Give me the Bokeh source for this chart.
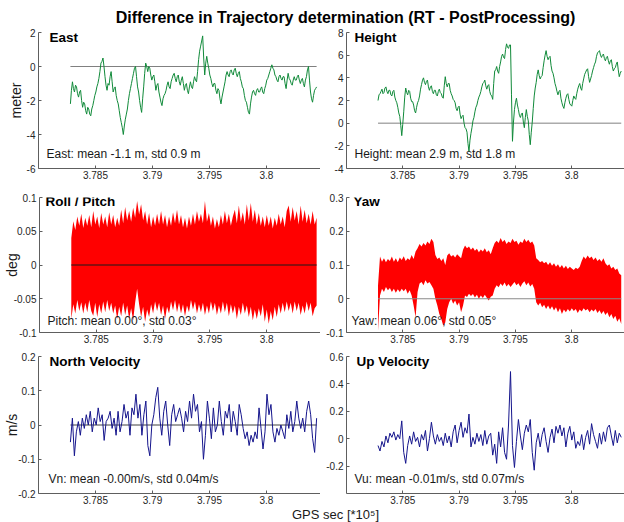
import math
from bokeh.plotting import figure
from bokeh.models import Range1d, FixedTicker, Label
from bokeh.layouts import column, row
from bokeh.embed import file_html
from bokeh.resources import INLINE

# ---------------- data ----------------
T_START = 3.7828   # GPS sec [*10^5]
T_END = 3.8044

x_ticks = [3.785, 3.79, 3.795, 3.8]
x_tick_labels = ["3.785", "3.79", "3.795", "3.8"]

east = [-2.2, -1.4, -0.9, -1.3, -1.5, -1.1, -1.2, -1.6, -1.8, -1.5, -1.4, -2.0, -2.4, -2.1, -2.2,
        -2.6, -2.8, -2.4, -2.5, -2.8, -2.9, -2.5, -2.3, -2.0, -1.7, -1.5, -1.2, -1.0, -0.7, -0.3,
        0.2, 0.3, 0.5, 0.0, -0.6, -1.1, -1.4, -1.0, -1.1, -0.6, -0.3, -0.9, -1.5, -1.3, -1.2,
        -1.7, -2.0, -2.2, -2.6, -3.0, -3.3, -3.6, -4.0, -3.5, -3.1, -2.8, -2.5, -2.0, -1.6, -1.3,
        -1.0, -0.7, -0.4, -0.1, 0.0, -0.6, -1.2, -1.5, -2.0, -2.4, -2.7, -1.9, -1.2, -0.4, 0.2,
        0.0, -0.3, 0.0, -0.1, -0.5, -0.8, -0.6, -0.5, -0.9, -1.4, -1.1, -1.0, -1.5, -1.8, -2.1,
        -2.3, -1.9, -1.7, -1.6, -1.4, -1.1, -0.9, -1.2, -1.3, -0.9, -0.7, -0.5, -0.4, -0.7, -0.9,
        -0.6, -0.5, -0.9, -1.1, -0.8, -0.6, -1.0, -1.4, -1.1, -1.0, -1.4, -1.6, -1.2, -0.9, -1.2,
        -1.3, -0.9, -0.6, -0.8, -0.9, -0.3, 0.4, 0.9, 1.2, 1.5, 1.8, 0.5, -0.5, 0.2, 0.6, 0.2,
        -0.1, -0.5, -0.7, -1.0, -1.2, -1.0, -1.0, -1.4, -1.6, -1.3, -1.4, -1.9, -2.2, -1.8, -1.5,
        -1.2, -0.9, -0.5, -0.3, -0.5, -0.6, -0.3, -0.2, -0.4, -0.5, -0.2, -0.1, -0.4, -0.6, -0.4,
        -0.3, -0.7, -0.9, -1.2, -1.3, -1.7, -2.0, -2.1, -2.4, -2.7, -2.8, -2.2, -1.8, -1.5, -1.4,
        -1.6, -1.7, -1.4, -1.3, -1.5, -1.5, -1.3, -1.2, -1.5, -1.6, -1.3, -1.1, -0.8, -0.7, -0.5,
        -0.3, -0.1, 0.1, -0.1, -0.2, -0.5, -0.6, -0.8, -0.9, -0.6, -0.5, -0.7, -0.8, -0.6, -0.6,
        -1.0, -1.3, -0.8, -0.4, -0.7, -0.8, -1.0, -1.1, -0.8, -0.6, -0.8, -0.8, -0.6, -0.5, -0.8,
        -1.0, -0.8, -0.7, -1.0, -1.2, -0.8, -0.6, -0.2, 0.0, -0.8, -1.5, -1.9, -2.1, -1.7, -1.4,
        -1.3, -1.2]

height = [2.0, 2.5, 2.6, 2.8, 3.0, 2.6, 2.7, 3.1, 3.2, 2.8, 2.6, 2.9, 2.9, 2.5, 2.4, 2.8, 2.9,
          2.3, 2.0, 1.8, 1.4, 0.9, 0.6, -0.2, -1.1, -0.1, 1.0, 2.3, 3.1, 2.7, 2.5, 2.9, 2.8, 2.2,
          1.9, 1.9, 1.6, 1.1, 0.9, 1.4, 1.8, 2.0, 2.4, 3.0, 3.4, 3.8, 4.0, 3.6, 3.4, 3.7, 3.8,
          3.2, 2.9, 3.2, 3.3, 2.8, 2.6, 2.9, 2.9, 2.5, 2.4, 2.8, 3.0, 2.7, 2.6, 2.3, 2.2, 3.3,
          4.1, 3.5, 3.2, 3.5, 3.5, 2.9, 2.6, 2.4, 2.1, 2.0, 1.8, 1.3, 1.1, 1.4, 1.5, 0.8, 0.4,
          0.6, 0.7, 0.0, -0.4, -0.5, -0.8, -1.8, -2.5, -1.5, -0.9, -0.4, 0.2, 0.5, 1.0, 1.4, 1.6,
          2.0, 2.3, 2.5, 2.8, 3.2, 3.5, 3.6, 3.8, 3.3, 3.0, 3.3, 3.4, 2.8, 2.5, 2.4, 2.1, 3.5,
          4.6, 4.7, 5.0, 4.6, 4.4, 5.0, 5.4, 5.9, 6.1, 5.8, 5.7, 6.5, 7.0, 6.7, 6.6, 6.9, 6.9,
          2.5, -1.6, 0.1, 1.2, 1.8, 2.2, 1.6, 1.2, 0.7, 0.5, 0.8, 0.9, 0.1, -0.4, 0.5, 1.2, 0.6,
          0.2, -1.0, -1.9, -0.8, 0.1, 1.3, 2.4, 3.1, 3.6, 4.3, 4.7, 4.2, 3.9, 4.1, 4.2, 4.9, 5.5,
          6.0, 6.4, 5.9, 5.6, 5.8, 5.9, 5.1, 4.6, 4.4, 4.0, 3.5, 3.2, 2.8, 2.5, 2.8, 2.9, 2.2,
          1.8, 1.5, 1.3, 1.8, 2.2, 2.5, 2.6, 2.1, 1.7, 1.6, 1.5, 2.0, 2.4, 2.2, 2.1, 2.6, 3.0,
          3.3, 3.5, 3.1, 2.9, 3.5, 3.9, 4.3, 4.5, 4.7, 4.8, 4.1, 3.6, 3.9, 4.2, 4.6, 4.9, 5.2,
          5.4, 5.9, 6.2, 6.3, 6.4, 6.0, 5.8, 6.0, 6.1, 5.7, 5.5, 5.8, 5.9, 5.5, 5.2, 5.5, 5.6,
          5.0, 4.6, 4.8, 4.9, 5.2, 5.4, 4.7, 4.1, 4.4, 4.6]

pitch_upper = [0.04, 0.065, 0.052, 0.072, 0.058, 0.076, 0.055, 0.07, 0.058, 0.074, 0.056, 0.08,
               0.06, 0.072, 0.055, 0.077, 0.06, 0.072, 0.056, 0.078, 0.06, 0.074, 0.056, 0.07,
               0.058, 0.082, 0.062, 0.086, 0.066, 0.08, 0.064, 0.085, 0.07, 0.095, 0.075, 0.09,
               0.066, 0.08, 0.06, 0.077, 0.056, 0.072, 0.058, 0.076, 0.06, 0.08, 0.06, 0.074,
               0.056, 0.072, 0.058, 0.078, 0.062, 0.082, 0.06, 0.074, 0.056, 0.07, 0.054, 0.072,
               0.058, 0.076, 0.06, 0.08, 0.064, 0.076, 0.062, 0.095, 0.064, 0.077, 0.058, 0.072,
               0.054, 0.068, 0.056, 0.074, 0.06, 0.08, 0.062, 0.076, 0.058, 0.072, 0.082, 0.062,
               0.088, 0.064, 0.078, 0.06, 0.09, 0.066, 0.092, 0.064, 0.082, 0.06, 0.077, 0.058,
               0.072, 0.056, 0.074, 0.058, 0.072, 0.054, 0.07, 0.058, 0.076, 0.06, 0.072, 0.056,
               0.08, 0.088, 0.064, 0.086, 0.066, 0.08, 0.06, 0.088, 0.064, 0.082, 0.062, 0.076,
               0.06, 0.08, 0.06, 0.07]

pitch_lower = [-0.08, -0.058, -0.072, -0.052, -0.068, -0.055, -0.072, -0.056, -0.07, -0.052, -0.068,
               -0.075, -0.056, -0.077, -0.058, -0.072, -0.054, -0.07, -0.052, -0.068, -0.056, -0.072,
               -0.06, -0.08, -0.062, -0.076, -0.056, -0.074, -0.06, -0.08, -0.064, -0.082, -0.056,
               -0.035, -0.058, -0.077, -0.062, -0.084, -0.066, -0.077, -0.058, -0.072, -0.054, -0.068,
               -0.056, -0.074, -0.06, -0.08, -0.062, -0.072, -0.054, -0.067, -0.052, -0.07, -0.056,
               -0.072, -0.058, -0.076, -0.06, -0.07, -0.052, -0.066, -0.054, -0.072, -0.058, -0.07,
               -0.056, -0.074, -0.06, -0.072, -0.054, -0.068, -0.056, -0.074, -0.06, -0.072, -0.054,
               -0.07, -0.056, -0.076, -0.058, -0.072, -0.06, -0.08, -0.062, -0.074, -0.056, -0.072,
               -0.06, -0.077, -0.062, -0.082, -0.066, -0.08, -0.064, -0.076, -0.058, -0.084, -0.066,
               -0.087, -0.068, -0.082, -0.062, -0.077, -0.058, -0.072, -0.056, -0.07, -0.054, -0.068,
               -0.056, -0.072, -0.054, -0.068, -0.056, -0.074, -0.06, -0.072, -0.054, -0.068, -0.056,
               -0.076, -0.064, -0.06]

yaw_upper = [0.04, 0.125, 0.11, 0.12, 0.108, 0.118, 0.112, 0.125, 0.11, 0.12, 0.108, 0.122, 0.115,
             0.126, 0.112, 0.12, 0.115, 0.13, 0.118, 0.14, 0.15, 0.162, 0.155, 0.165, 0.158, 0.17,
             0.162, 0.178, 0.168, 0.13, 0.118, 0.122, 0.112, 0.12, 0.10, 0.128, 0.135, 0.125, 0.13,
             0.122, 0.132, 0.126, 0.12, 0.145, 0.158, 0.15, 0.155, 0.145, 0.152, 0.142, 0.148,
             0.138, 0.146, 0.14, 0.15, 0.138, 0.144, 0.132, 0.15, 0.165, 0.172, 0.165, 0.18, 0.168,
             0.175, 0.162, 0.17, 0.165, 0.178, 0.168, 0.172, 0.16, 0.17, 0.165, 0.178, 0.168, 0.175,
             0.165, 0.17, 0.158, 0.12, 0.115, 0.108, 0.112, 0.105, 0.11, 0.10, 0.108, 0.098, 0.105,
             0.095, 0.102, 0.092, 0.10, 0.09, 0.098, 0.088, 0.095, 0.09, 0.085, 0.092, 0.088, 0.095,
             0.112, 0.125, 0.118, 0.128, 0.12, 0.125, 0.115, 0.122, 0.112, 0.118, 0.11, 0.12, 0.105,
             0.098, 0.102, 0.09, 0.095, 0.085, 0.09, 0.075, 0.07]

yaw_lower = [-0.095, 0.01, 0.03, 0.02, 0.035, 0.025, 0.032, 0.02, 0.03, 0.018, 0.028, 0.02, 0.03,
             0.022, 0.03, 0.015, 0.025, 0.01, -0.02, -0.055, 0.02, 0.045, 0.05, 0.04, 0.055, 0.045,
             0.05, 0.04, 0.03, 0.0, -0.02, -0.045, -0.06, -0.08, -0.07, -0.03, -0.01, 0.0, -0.015,
             -0.005, -0.02, -0.01, -0.04, -0.02, 0.01, 0.005, 0.015, 0.008, 0.014, 0.004, 0.012,
             0.0, 0.01, 0.002, 0.012, 0.003, -0.005, 0.006, 0.01, 0.03, 0.04, 0.034, 0.045, 0.038,
             0.048, 0.036, 0.044, 0.035, 0.042, 0.05, 0.04, 0.046, 0.035, 0.045, 0.052, 0.04, 0.048,
             0.036, 0.044, 0.03, -0.01, -0.02, -0.012, -0.025, -0.018, -0.03, -0.02, -0.032,
             -0.022, -0.035, -0.025, -0.04, -0.028, -0.045, -0.032, -0.04, -0.03, -0.038, -0.028,
             -0.036, -0.03, -0.042, -0.032, -0.038, -0.028, -0.035, -0.03, -0.04, -0.032, -0.038,
             -0.03, -0.042, -0.034, -0.045, -0.036, -0.048, -0.04, -0.055, -0.045, -0.06, -0.05,
             -0.068, -0.058, -0.075]

vn = [-0.05, 0.02, -0.09, -0.02, 0.01, -0.03, 0.02, -0.01, 0.03, 0.0, 0.04, -0.02, 0.02, 0.0,
      0.05, 0.01, 0.03, -0.045, 0.01, 0.02, 0.04, -0.01, 0.02, -0.03, 0.04, -0.02, 0.01, 0.06,
      0.02, 0.04, -0.03, 0.05, 0.03, 0.09, 0.02, 0.06, -0.03, 0.03, 0.07, -0.06, -0.09, 0.0,
      0.03, 0.08, 0.11, 0.02, -0.03, 0.04, 0.07, 0.0, -0.06, 0.03, 0.06, 0.01, 0.03, 0.05, 0.02,
      -0.02, 0.04, 0.01, 0.07, 0.02, 0.09, 0.04, 0.06, -0.02, 0.01, -0.10, -0.03, 0.07, 0.02,
      -0.04, 0.05, -0.02, 0.0, 0.07, 0.01, -0.03, 0.04, 0.02, 0.06, -0.02, 0.04, 0.01, -0.03,
      0.06, 0.03, -0.01, -0.04, -0.02, -0.06, -0.03, -0.05, -0.02, -0.04, 0.05, -0.01, -0.07,
      -0.02, 0.09, 0.03, 0.06, -0.02, -0.05, -0.01, -0.03, 0.0, -0.02, -0.04, 0.03, -0.01, 0.04,
      -0.02, 0.01, 0.07, 0.02, -0.01, 0.02, -0.02, 0.04, 0.07, 0.03, -0.04, -0.08, 0.02]

vu = [-0.05, -0.09, -0.02, -0.06, 0.02, -0.03, 0.04, 0.01, 0.05, -0.01, 0.03, 0.0, 0.13, -0.10,
      -0.18, -0.05, 0.02, -0.04, 0.05, -0.02, 0.01, -0.06, 0.03, -0.01, 0.06, -0.09, 0.0, 0.12,
      0.02, -0.04, 0.03, -0.02, 0.01, -0.05, 0.04, -0.03, 0.02, -0.06, 0.05, 0.10, -0.03, 0.06,
      0.12, 0.01, 0.08, 0.04, 0.18, -0.06, 0.01, -0.04, 0.04, -0.02, 0.03, -0.05, 0.06, -0.04,
      0.02, 0.04, -0.12, -0.04, -0.18, 0.05, -0.06, 0.08, -0.10, -0.15, 0.10, 0.49, -0.05, -0.21,
      -0.02, 0.14, 0.02, -0.08, 0.04, 0.10, 0.05, 0.14, -0.10, -0.23, -0.03, 0.04, -0.06, 0.03,
      0.08, -0.02, -0.10, 0.01, 0.07, -0.03, 0.09, 0.04, 0.10, 0.02, 0.08, -0.06, 0.04, 0.09,
      -0.01, 0.05, -0.07, -0.02, -0.05, 0.03, -0.08, 0.01, 0.06, -0.04, 0.11, 0.03, -0.02, -0.07,
      0.04, -0.04, 0.05, -0.02, 0.08, 0.10, 0.02, -0.05, 0.06, -0.03, 0.04, 0.01]

east_yticks = [-6, -4, -2, 0, 2]
east_ylabels = ["-6", "-4", "-2", "0", "2"]
height_yticks = [-4, -2, 0, 2, 4, 6, 8]
height_ylabels = ["-4", "-2", "0", "2", "4", "6", "8"]
pitch_yticks = [-0.1, -0.05, 0, 0.05, 0.1]
pitch_ylabels = ["-0.1", "-0.05", "0", "0.05", "0.1"]
yaw_yticks = [-0.1, 0, 0.1, 0.2, 0.3]
yaw_ylabels = ["-0.1", "0", "0.1", "0.2", "0.3"]
vn_yticks = [-0.2, -0.1, 0, 0.1, 0.2]
vn_ylabels = ["-0.2", "-0.1", "0", "0.1", "0.2"]
vu_yticks = [-0.2, 0, 0.2, 0.4, 0.6]
vu_ylabels = ["-0.2", "0", "0.2", "0.4", "0.6"]

FONT = "Liberation Sans"
GREEN = "#118a3a"
RED = "#ff0000"
BLUE = "#15158c"


def times(n):
    return [T_START + (T_END - T_START) * i / (n - 1) for i in range(n)]


def panel(width, height, b_left, b_top, b_bottom, x_end, y_rng, yticks, ylabels,
          title, title_xy, stats, stats_xy, ylabel=None, ylabel_standoff=0):
    p = figure(width=width, height=height, output_backend="svg", toolbar_location=None,
               x_range=Range1d(3.780, x_end), y_range=Range1d(*y_rng),
               min_border_left=b_left, min_border_right=0,
               min_border_top=b_top, min_border_bottom=b_bottom)
    p.outline_line_color = None
    p.xgrid.visible = False
    p.ygrid.visible = False
    p.background_fill_color = "white"
    for ax in (p.xaxis[0], p.yaxis[0]):
        ax.axis_line_color = "#5e5e5e"
        ax.major_tick_line_color = "#5e5e5e"
        ax.major_tick_in = 3
        ax.major_tick_out = 0
        ax.minor_tick_in = 0
        ax.minor_tick_out = 0
        ax.major_label_text_font = FONT
        ax.major_label_text_font_size = "10px"
        ax.major_label_text_color = "#262626"
    p.xaxis.ticker = FixedTicker(ticks=x_ticks)
    p.xaxis.major_label_overrides = dict(zip(x_ticks, x_tick_labels))
    p.xaxis.major_label_standoff = 2
    p.yaxis.ticker = FixedTicker(ticks=yticks)
    p.yaxis.major_label_overrides = dict(zip(yticks, ylabels))
    p.yaxis.major_label_standoff = 3
    if ylabel:
        p.yaxis.axis_label = ylabel
        p.yaxis.axis_label_standoff = ylabel_standoff
        p.yaxis.axis_label_text_font = FONT
        p.yaxis.axis_label_text_font_style = "normal"
        p.yaxis.axis_label_text_font_size = "14px"
        p.yaxis.axis_label_text_color = "#1a1a1a"
    fh = height - b_top - b_bottom
    p.add_layout(Label(x=title_xy[0], y=fh - title_xy[1], x_units="screen", y_units="screen",
                       text=title, text_font=FONT, text_font_style="bold",
                       text_font_size="13.5px", text_color="black"))
    p.add_layout(Label(x=stats_xy[0], y=stats_xy[1], x_units="screen", y_units="screen",
                       text=stats, text_font=FONT, text_font_size="12px", text_color="#1a1a1a"))
    return p


LW, RW = 320, 304
L_END = 3.80474
R_END = 3.80469

# row 1
p_e = panel(LW, 164, 38, 6, 22, L_END, (-6, 2), east_yticks, east_ylabels,
            "East", (11, 12), "East: mean -1.1 m, std 0.9 m", (8, 8), "meter", 0)
te = times(len(east))
p_e.line([te[0], te[-1]], [0, 0], line_color="#808080", line_width=1)
p_e.line(te, east, line_color=GREEN, line_width=1)

p_h = panel(RW, 164, 26, 6, 22, R_END, (-4, 8), height_yticks, height_ylabels,
            "Height", (8, 12), "Height: mean 2.9 m, std 1.8 m", (8, 8))
th = times(len(height))
p_h.line([th[0], th[-1]], [0, 0], line_color="#808080", line_width=1)
p_h.line(th, height, line_color=GREEN, line_width=1)

# row 2
p_p = panel(LW, 160, 38, 7, 18, L_END, (-0.1, 0.1), pitch_yticks, pitch_ylabels,
            "Roll / Pitch", (6, 11), "Pitch: mean 0.00\u00b0, std 0.03\u00b0", (8, 5), "deg", -9)
tp = times(len(pitch_upper))
p_p.varea(x=tp, y1=pitch_lower, y2=pitch_upper, fill_color=RED)
p_p.line([tp[0], tp[-1]], [0, 0], line_color="#1a1a1a", line_width=1)

p_y = panel(RW, 160, 26, 7, 18, R_END, (-0.1, 0.3), yaw_yticks, yaw_ylabels,
            "Yaw", (7, 11), "Yaw: mean 0.06\u00b0, std 0.05\u00b0", (5, 5))
ty = times(len(yaw_upper))
p_y.varea(x=ty, y1=yaw_lower, y2=yaw_upper, fill_color=RED)
p_y.line([ty[0], ty[-1]], [0, 0], line_color="#8a8a8a", line_width=1)

# row 3
p_vn = panel(LW, 157, 38, 6, 14, L_END, (-0.2, 0.2), vn_yticks, vn_ylabels,
             "North Velocity", (11, 12), "Vn: mean -0.00m/s, std 0.04m/s", (10, 8), "m/s", -5)
tn = times(len(vn))
p_vn.line([tn[0], tn[-1]], [0, 0], line_color="#404040", line_width=1)
p_vn.line(tn, vn, line_color=BLUE, line_width=1)

p_vu = panel(RW, 157, 26, 6, 14, R_END, (-0.4, 0.6), vu_yticks, vu_ylabels,
             "Up Velocity", (10, 12), "Vu: mean -0.01m/s, std 0.07m/s", (8, 8))
tu = times(len(vu))
p_vu.line(tu, vu, line_color=BLUE, line_width=1)

# title strip
p_t = figure(width=624, height=26, output_backend="svg", toolbar_location=None,
             x_axis_type=None, y_axis_type=None, min_border=0,
             x_range=Range1d(0, 1), y_range=Range1d(0, 1))
p_t.outline_line_color = None
p_t.add_layout(Label(x=345, y=9, x_units="screen", y_units="screen",
                     text="Difference in Trajectory determination (RT - PostProcessing)",
                     text_align="center", text_baseline="middle", text_font=FONT,
                     text_font_style="bold", text_font_size="16px", text_color="black"))

# x label strip
p_x = figure(width=624, height=15, output_backend="svg", toolbar_location=None,
             x_axis_type=None, y_axis_type=None, min_border=0,
             x_range=Range1d(0, 1), y_range=Range1d(0, 1))
p_x.outline_line_color = None
p_x.add_layout(Label(x=335, y=8, x_units="screen", y_units="screen",
                     text="GPS sec [*10\u2075]", text_align="center", text_baseline="middle",
                     text_font=FONT, text_font_size="13px", text_color="#1a1a1a"))

layout = column(p_t, row(p_e, p_h), row(p_p, p_y), row(p_vn, p_vu), p_x)

open("out.html", "w").write(file_html(layout, INLINE))
